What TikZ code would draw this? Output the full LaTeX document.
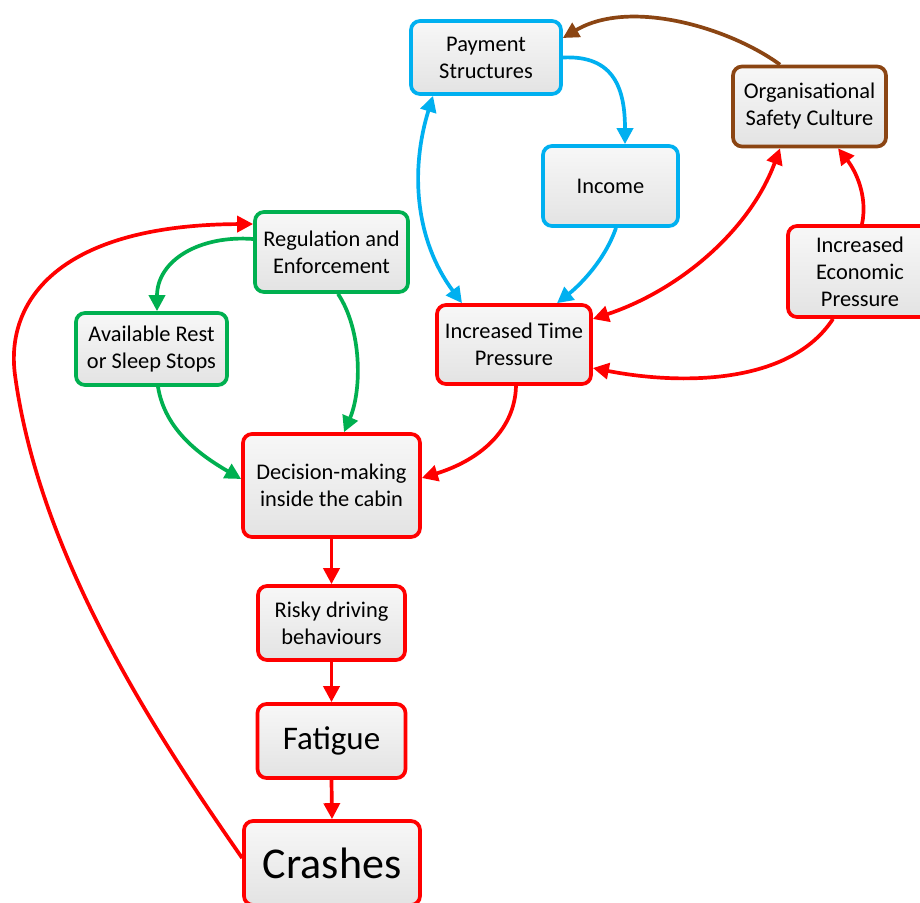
\documentclass[tikz,border=0pt]{standalone}
\usepackage{fontspec}
\setmainfont{Carlito}
\usetikzlibrary{arrows.meta}
\definecolor{cblue}{RGB}{0,176,240}
\definecolor{cgreen}{RGB}{0,176,80}
\definecolor{cred}{RGB}{255,0,0}
\definecolor{cbrown}{RGB}{139,69,19}
\tikzset{
  box/.style={draw=#1, rounded corners=9pt, line width=3.7pt, top color=gray!6, bottom color=gray!22,
    align=center, inner sep=0pt, font=\fontsize{22.4}{27}\selectfont},
  conn/.style={draw=#1, line width=3.7pt, -{Triangle[length=16pt,width=16pt]}},
  dconn/.style={draw=#1, line width=3.7pt, {Triangle[length=16pt,width=16pt]}-{Triangle[length=16pt,width=16pt]}},
}
\begin{document}
\begin{tikzpicture}[x=1pt,y=1pt]
\clip (0,0) rectangle (920,-902);
\fill[white] (0,0) rectangle (920,-902);
% nodes
\node[box=cblue, minimum width=150pt, minimum height=73pt] (PS) at (486,-57.5) {Payment\\Structures};
\node[box=cblue, minimum width=135pt, minimum height=80pt] (IN) at (610.5,-186) {Income};
\node[box=cbrown, minimum width=153pt, minimum height=80pt] (OSC) at (809.5,-106.5) {Organisational\\Safety Culture};
\node[box=cred, minimum width=144pt, minimum height=91pt] (IEP) at (860,-271.5) {Increased\\Economic\\Pressure};
\node[box=cred, minimum width=154pt, minimum height=79pt] (ITP) at (514,-344.5) {Increased Time\\Pressure};
\node[box=cgreen, minimum width=153pt, minimum height=80pt] (RE) at (331.5,-252) {Regulation and\\Enforcement};
\node[box=cgreen, minimum width=151pt, minimum height=72pt] (AR) at (151.5,-349) {Available Rest\\or Sleep Stops};
\node[box=cred, minimum width=177pt, minimum height=103pt] (DM) at (331.5,-485.5) {Decision-making\\inside the cabin};
\node[box=cred, minimum width=147pt, minimum height=74pt] (RD) at (331.5,-623) {Risky driving\\behaviours};
\node[box=cred, minimum width=148pt, minimum height=74pt, font=\fontsize{33}{38}\selectfont] (FA) at (331.5,-741) {Fatigue};
\node[box=cred, minimum width=176pt, minimum height=84pt, font=\fontsize{44}{50}\selectfont] (CR) at (332,-863) {Crashes};
% connectors
\draw[conn=cbrown] ([xshift=-29.5pt]OSC.north) .. controls (730,-28) and (630,2) .. ([yshift=19.5pt]PS.east);
\draw[conn=cblue] (PS.east) .. controls (615,-55) and (625,-90) .. ([xshift=14.5pt]IN.north);
\draw[conn=cblue] ([xshift=5.5pt]IN.south) .. controls (605,-260) and (580,-285) .. ([xshift=43pt]ITP.north);
\draw[dconn=cblue] ([xshift=-53pt]PS.south) .. controls (410,-170) and (415,-240) .. ([xshift=-52pt]ITP.north);
\draw[dconn=cred] ([yshift=25.5pt]ITP.east) .. controls (680,-290) and (750,-230) .. ([xshift=-29.5pt]OSC.south);
\draw[conn=cred] ([xshift=2pt]IEP.north) .. controls (868,-195) and (855,-170) .. ([xshift=28.5pt]OSC.south);
\draw[conn=cred] ([xshift=-27pt]IEP.south) .. controls (790,-385) and (680,-385) .. ([yshift=-23.5pt]ITP.east);
\draw[conn=cred] ([xshift=2pt]ITP.south) .. controls (515,-430) and (480,-460) .. ([yshift=7.5pt]DM.east);
\draw[conn=cgreen] ([yshift=13pt]RE.west) .. controls (200,-235) and (157,-260) .. ([xshift=5.5pt]AR.north);
\draw[conn=cgreen] ([xshift=6.5pt]RE.south) .. controls (362,-330) and (362,-390) .. ([xshift=12.5pt]DM.north);
\draw[conn=cgreen] ([xshift=6.5pt]AR.south) .. controls (165,-430) and (200,-455) .. ([yshift=6.5pt]DM.west);
\draw[conn=cred] (DM.south) -- (RD.north);
\draw[conn=cred] (RD.south) -- (FA.north);
\draw[conn=cred] (FA.south) -- (CR.north);
\coordinate (loopL) at (15,-375);
\draw[conn=cred] ([yshift=5pt]CR.west) .. controls (160,-740) and (40,-560) .. (loopL) .. controls (5,-300) and (60,-225) .. ([yshift=28pt]RE.west);
\end{tikzpicture}
\end{document}
